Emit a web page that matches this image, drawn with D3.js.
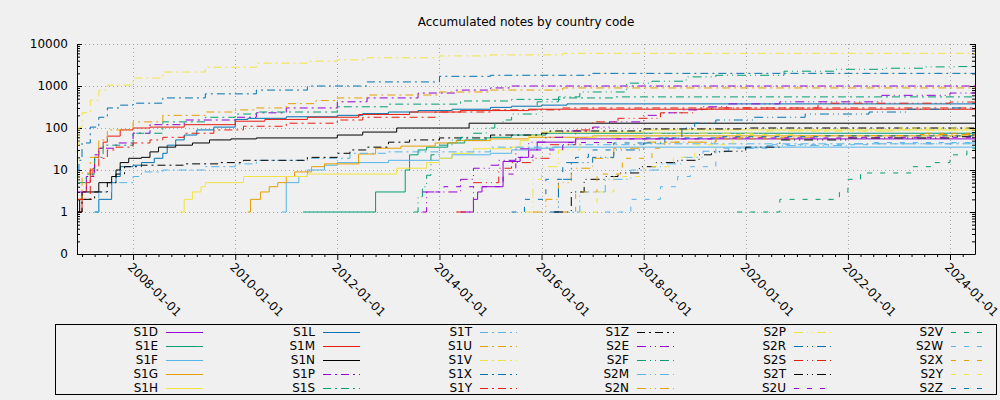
<!DOCTYPE html>
<html><head><meta charset="utf-8">
<script src="https://cdn.jsdelivr.net/npm/d3@7"></script>
<style>
body{margin:0;background:#f0f0f0}
svg{display:block}
text{font-family:"DejaVu Sans",sans-serif;font-size:12px;fill:#000}
</style>
</head><body><svg id="c" width="1000" height="400"></svg>
<script>
const title = "Accumulated notes by country code";
const seriesNames = ["S1D","S1E","S1F","S1G","S1H","S1L","S1M","S1N",
  "S1P","S1S","S1T","S1U","S1V","S1X","S1Y","S1Z",
  "S2E","S2F","S2M","S2N","S2P","S2R","S2S","S2T",
  "S2U","S2V","S2W","S2X","S2Y","S2Z"];
const yTickValues = [0.1,1,10,100,1000,10000];
const yTickLabels = ["0","1","10","100","1000","10000"];
const xTickYears = [2008,2010,2012,2014,2016,2018,2020,2022,2024];
const xStart = "2006-11-26", xEnd = "2024-06-28";

const s1d=[["2014-06",1],["2014-09",2],["2014-10",3],["2014-11",4],["2015-04",16],["2015-08",20],["2015-10",30],["2015-12",46],["2016-09",55]];
const s1e=[["2011-05",1],["2012-10",3],["2013-05",10],["2013-06",23],["2013-08",30],["2013-10",35],["2014-03",44],["2014-07",52],["2014-12",58],["2015-01",60],["2015-06",68],["2016-02",75]];
const s1f=[["2010-12",1],["2011-01",5],["2011-04",7],["2011-06",10],["2011-10",13],["2012-01",15],["2013-01",17],["2014-01",19],["2014-04",23],["2015-01",25],["2015-06",30],["2015-10",33],["2016-04",35]];
const s1g=[["2010-04",1],["2010-04-20",2],["2010-07",3],["2010-09",4],["2010-11",5],["2011-01",7],["2011-03",9],["2011-07",12],["2011-10",14],["2012-06",24],["2012-10",33],["2013-04",37],["2013-12",44],["2014-05",50],["2015-01",55],["2015-10",60],["2017-01",65]];
const s1h=[["2008-12",1],["2009-01",2],["2009-03",3],["2009-05",4],["2009-06",5],["2010-03",7],["2011-06",8],["2013-03",11],["2013-10",15],["2014-01",19],["2014-04",25],["2014-09",32],["2015-06",35],["2015-08",50],["2015-10",65],["2016-01",80],["2018-01",90]];
const s1l=[["2007-04",1],["2007-05",2],["2007-08",5],["2007-09",7],["2007-10",12],["2008-01",13],["2008-03",15],["2008-06",19],["2008-08",25],["2008-09",39],["2008-11",52],["2009-01",68],["2009-04",90],["2009-08",105],["2010-01",160],["2010-04",170],["2011-01",185],["2012-01",200],["2012-07",220],["2013-01",240],["2013-08",260],["2014-04",280],["2015-01",310],["2015-06",330],["2016-01",350],["2016-07",375]];
const s1m=[["2006-12-05",1],["2007-01",3],["2007-02",5],["2007-03",7],["2007-03-20",11],["2007-04",20],["2007-05",33],["2007-06",46],["2007-07",64],["2007-10",90],["2008-01",100],["2008-05",105],["2009-01",120],["2010-01",145],["2010-08",160],["2011-06",180],["2012-06",210],["2013-06",240],["2014-06",260],["2015-10",280]];
const s1n=[["2006-12-01",1],["2006-12-15",2],["2007-01",3],["2007-05",5],["2007-08",7],["2007-09",10],["2007-10",15],["2007-12",19],["2008-03",20],["2008-05",27],["2008-07",35],["2008-11",39],["2009-03",44],["2009-07",52],["2009-12",55],["2010-06",58],["2012-01",68],["2012-07",80],["2013-03",100],["2014-08",130]];
const s1p=[["2006-12-01",3],["2007-02",7],["2007-04",23],["2007-05",33],["2007-09",44],["2008-01",75],["2008-05",120],["2009-01",155],["2010-01",180],["2010-06",230],["2011-01",300],["2012-01",420],["2012-08",520],["2013-08",680],["2014-05",800],["2015-01",900],["2015-06",1000]];
const s1s=[["2006-12-01",5],["2007-02",8],["2007-04",20],["2007-06",39],["2008-01",75],["2008-08",140],["2009-06",180],["2010-01",215],["2010-06",240],["2012-01",320],["2013-01",370],["2014-06",440],["2015-06",480],["2016-06",520],["2017-06",550]];
const s1t=[["2007-04",1],["2007-05",3],["2007-08",5],["2008-01",7],["2008-03",9],["2008-08",10],["2009-06",12],["2010-01",14],["2010-06",17],["2011-06",19],["2012-04",25],["2013-01",27],["2015-01",35],["2016-06",40],["2018-01",42]];
const s1u=[["2006-12-01",2],["2007-01",8.5],["2007-03",20],["2007-05",52],["2007-07",90],["2008-01",140],["2008-08",200],["2009-06",240],["2010-01",270],["2010-06",300],["2011-01",380],["2011-08",450],["2012-01",520],["2012-08",610],["2014-01",720],["2015-01",800],["2016-06",900]];
const s1v=[["2006-11-26",5],["2006-12-01",40],["2006-12-10",105],["2007-01",230],["2007-03",460],["2007-05",800],["2007-07",1050],["2008-01",1550],["2008-08",2150],["2009-06",2800],["2010-06",3500],["2011-06",3900],["2012-01",4200],["2012-08",4700],["2014-01",5200],["2015-01",5500],["2016-06",6000]];
const s1x=[["2006-11-26",10],["2006-12-10",17],["2007-01",44],["2007-03",105],["2007-05",180],["2007-07",300],["2007-10",350],["2008-01",390],["2008-08",520],["2009-06",650],["2010-06",800],["2011-06",1000],["2012-08",1250],["2014-01",1700],["2015-01",1800],["2017-01",2000]];
const s1y=[["2006-12-01",2],["2007-03",10],["2007-05",19],["2007-07",30],["2007-09",35],["2008-01",44],["2008-05",52],["2008-08",60],["2009-01",75],["2009-08",90],["2010-03",110],["2011-01",130],["2012-01",155],["2012-07",180],["2013-12",240],["2015-01",270],["2016-06",300]];
const s1z=[["2006-12-05",1],["2007-01",2],["2007-04",3],["2007-07",5],["2007-09",8],["2007-11",12],["2008-03",13],["2009-01",14],["2009-09",15],["2010-03",17],["2011-06",20],["2012-01",25],["2012-04",30],["2012-08",35],["2013-01",46],["2013-06",52],["2014-01",58],["2015-01",68],["2016-01",75],["2016-03",85],["2018-01",95],["2020-01",100]];
const s2e=[["2013-09",1],["2013-10",3],["2014-06",6],["2014-09",11],["2015-01",13],["2015-03",17],["2015-07",32],["2015-10",46],["2016-02",60],["2016-06",85],["2017-01",105],["2017-05",140],["2018-01",200],["2018-05",230],["2018-10",270],["2019-03",320],["2019-09",375],["2020-09",420],["2022-09",600],["2024-01",680]];
const s2f=[["2013-07",1],["2013-08",2.3],["2013-09",4],["2013-10",7.5],["2013-11",23],["2014-01",39],["2014-04",52],["2014-06",60],["2014-09",75],["2014-12",100],["2015-02",130],["2015-04",155],["2015-06",215],["2015-12",420],["2016-05",550],["2016-10",720],["2017-09",1170],["2018-03",1300],["2018-11",1650],["2019-06",1800],["2020-10",2250],["2021-10",2500],["2022-10",2650],["2023-07",2850],["2024-02",2900]];
const s2m=[["2016-04",1],["2016-10",3],["2017-04",6],["2017-10",10],["2018-05",14],["2018-10",20],["2019-03",28],["2019-09",33],["2020-06",38],["2022-01",42],["2024-01",44]];
const s2n=[["2015-11",1],["2016-02",2],["2016-05",5],["2016-08",11],["2017-01",19],["2017-06",33],["2018-01",46],["2019-06",60],["2021-06",66],["2023-06",70]];
const s2p=[["2015-09",1],["2015-11",6],["2016-01",12],["2016-05",30],["2016-10",60],["2018-01",75],["2020-06",85],["2023-01",90]];
const s2r=[["2016-03",1],["2016-05",6],["2016-08",15],["2017-01",20],["2017-06",30],["2018-01",44],["2018-06",58],["2018-10",100],["2019-01",130],["2019-06",155],["2020-03",180],["2021-03",215],["2022-06",240],["2023-03",280],["2024-01",300]];
const s2s=[["2014-05",1],["2014-09",5],["2015-03",11],["2015-06",15],["2015-11",19],["2016-03",40],["2016-09",90],["2017-01",140],["2017-07",170],["2018-05",230],["2019-01",280],["2019-05",300],["2021-06",390],["2024-01",415]];
const s2t=[["2016-04",1],["2016-08",3],["2016-11",6],["2017-04",7],["2017-07",8.5],["2017-12",12],["2018-04",15],["2018-09",17],["2019-02",23],["2019-05",27],["2019-08",28],["2020-01",35],["2020-09",52],["2022-01",58],["2024-01",62]];
const s2u=[["2013-09",3],["2014-02",4],["2015-04",8],["2015-07",20],["2015-11",30],["2016-06",45],["2017-06",55],["2019-06",58],["2022-01",60]];
const s2v=[["2019-11",1],["2020-09",2],["2021-11",3],["2022-01",6],["2022-04",8.5],["2023-04",12],["2023-09",15],["2024-01",23],["2024-05",33]];
const s2w=[["2017-04",1],["2017-10",2],["2018-05",4],["2018-09",7],["2018-12",12],["2019-06",33],["2020-06",40],["2022-06",45]];
const s2x=[["2016-06",1],["2016-09",3],["2017-02",8],["2017-08",19],["2018-03",33],["2018-06",46],["2019-06",55],["2021-01",65],["2023-06",75]];
const s2y=[["2016-10",1],["2017-02",3],["2017-06",7],["2018-01",12],["2018-08",20],["2019-01",40],["2019-10",70],["2021-01",85],["2023-01",100]];
const s2z=[["2015-06",1],["2015-09",2],["2016-02",6],["2016-06",15],["2016-09",20],["2016-12",30],["2017-06",44],["2018-01",58],["2019-06",62],["2021-06",65]];

const seriesData=[s1d,s1e,s1f,s1g,s1h,s1l,s1m,s1n,s1p,s1s,s1t,s1u,s1v,s1x,s1y,s1z,
  s2e,s2f,s2m,s2n,s2p,s2r,s2s,s2t,s2u,s2v,s2w,s2x,s2y,s2z];

// styles (gnuplot default palette + dash cycle)
const colors=["#9400d3","#009e73","#56b4e9","#e69f00","#f0e442","#0072b2","#e51e10","#000000"];
const dashes=["","8,4,2,4","9,4,1,4,1,4","5,8"];

const parse = s => new Date(s.length===7 ? s+"-01T00:00:00Z" : s+"T00:00:00Z");
const d0=parse(xStart), d1=parse(xEnd);

const L=77,R=975,T=44,B=254;
const svg=d3.select("#c");
const x=d3.scaleUtc().domain([d0,d1]).range([L,R]);
const y=d3.scaleLog().domain([0.1,10000]).range([B,T]);

// title
svg.append("text").attr("x",(L+R)/2).attr("y",26).attr("text-anchor","middle").text(title);

// grid
const majorDates=xTickYears.map(yr=>new Date(Date.UTC(yr,0,1)));
const grid=svg.append("g").attr("stroke","#a8a8a8").attr("stroke-dasharray","1,3").attr("stroke-width",1);
majorDates.forEach(d=>grid.append("line").attr("x1",Math.round(x(d))+0.5).attr("x2",Math.round(x(d))+0.5).attr("y1",T).attr("y2",B));
yTickValues.slice(1).forEach(v=>grid.append("line").attr("y1",Math.round(y(v))+0.5).attr("y2",Math.round(y(v))+0.5).attr("x1",L).attr("x2",R));

// minor log ticks
const minorY=[];
[0.1,1,10,100,1000].forEach(d=>{for(let k=2;k<=9;k++)minorY.push(k*d);});
const minorX=d3.utcMonth.every(3).range(d0,d1).filter(d=>!(d.getUTCMonth()===0&&d.getUTCFullYear()%2===0));

function cleanAxis(g){g.select(".domain").remove();g.selectAll("line").attr("stroke","#000");}
const fmt=v=>yTickLabels[yTickValues.indexOf(v)];
svg.append("g").attr("transform",`translate(${L},0)`)
  .call(d3.axisLeft(y).tickValues(yTickValues).tickFormat(fmt).tickSize(-5).tickPadding(9))
  .call(cleanAxis).call(g=>g.selectAll("text").attr("font-size",12).attr("font-family","DejaVu Sans"));
svg.append("g").attr("transform",`translate(${L},0)`)
  .call(d3.axisLeft(y).tickValues(minorY).tickFormat("").tickSize(-3)).call(cleanAxis);
svg.append("g").attr("transform",`translate(${R},0)`)
  .call(d3.axisRight(y).tickValues(yTickValues).tickFormat("").tickSize(-5)).call(cleanAxis);
svg.append("g").attr("transform",`translate(${R},0)`)
  .call(d3.axisRight(y).tickValues(minorY).tickFormat("").tickSize(-3)).call(cleanAxis);
svg.append("g").attr("transform",`translate(0,${B})`)
  .call(d3.axisBottom(x).tickValues(majorDates).tickFormat("").tickSize(6)).call(cleanAxis);
svg.append("g").attr("transform",`translate(0,${B})`)
  .call(d3.axisBottom(x).tickValues(minorX).tickFormat("").tickSize(3)).call(cleanAxis);

// x labels rotated
const xl=d3.utcFormat("%Y-%m-%d");
svg.append("g").selectAll("text").data(majorDates).join("text")
  .attr("transform",d=>`translate(${x(d)-3},${B+11}) rotate(45)`)
  .attr("dy","0.35em").attr("text-anchor","start").text(d=>xl(d));

// series
const line=d3.line().x(d=>x(d[0])).y(d=>y(d[1])).curve(d3.curveStepAfter);
const lg=svg.append("g").attr("fill","none").attr("stroke-width",1);
seriesData.forEach((arr,i)=>{
  const pts=arr.map(p=>[parse(p[0]),p[1]]);
  pts.push([d1,pts[pts.length-1][1]]);
  lg.append("path").attr("d",line(pts)).attr("stroke",colors[i%8])
    .attr("stroke-dasharray",dashes[Math.floor(i/8)]||null);
});

// border
const bd=svg.append("g").attr("stroke","#000").attr("stroke-width",1).attr("fill","none");
bd.append("path").attr("d",`M${L+0.5},${T}V${B+0.5}H${R+0.5}V${T}`);

// legend
const lgX=55,lgY=324,lgW=941,lgH=70,colW=157,rowH=14;
svg.append("rect").attr("x",lgX+0.5).attr("y",lgY+0.5).attr("width",lgW).attr("height",lgH)
  .attr("fill","none").attr("stroke","#000");
seriesNames.forEach((n,i)=>{
  const c=Math.floor(i/5), r=i%5;
  const tx=158+c*colW, ty=331.5+r*rowH;
  svg.append("text").attr("x",tx).attr("y",ty).attr("dy","0.35em").attr("text-anchor","end").text(n);
  svg.append("line").attr("x1",tx+8).attr("x2",tx+45).attr("y1",Math.round(ty)+0.5).attr("y2",Math.round(ty)+0.5)
    .attr("stroke",colors[i%8]).attr("stroke-dasharray",dashes[Math.floor(i/8)]||null);
});
</script></body></html>
